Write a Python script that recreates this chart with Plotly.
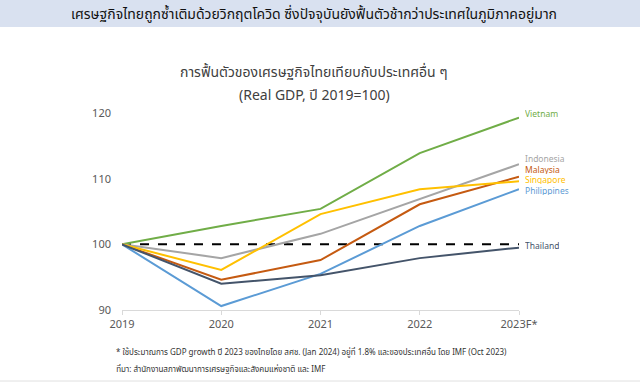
import plotly.graph_objects as go

years = ["2019", "2020", "2021", "2022", "2023F*"]
vietnam = [100, 102.8, 105.4, 113.9, 119.3]
indonesia = [100, 97.9, 101.6, 106.9, 112.2]
malaysia = [100, 94.6, 97.6, 106.1, 110.3]
singapore = [100, 96.1, 104.6, 108.4, 109.6]
philippines = [100, 90.6, 95.5, 102.8, 108.4]
thailand = [100, 94.0, 95.3, 97.9, 99.5]
baseline = [100, 100, 100, 100, 100]

series = [
    ("Vietnam", vietnam, "#70AD47", 120.0),
    ("Indonesia", indonesia, "#A5A5A5", 113.1),
    ("Malaysia", malaysia, "#C55A11", 111.5),
    ("Singapore", singapore, "#FFC000", 109.9),
    ("Philippines", philippines, "#5B9BD5", 108.3),
    ("Thailand", thailand, "#44546A", 99.9),
]

FONT = "Noto Sans, Noto Sans Thai, Tahoma, sans-serif"
xs = list(range(len(years)))

fig = go.Figure()
fig.add_trace(go.Scatter(x=xs, y=baseline, mode="lines",
                         line=dict(color="black", width=2, dash="dash"),
                         hoverinfo="skip", showlegend=False))
for name, vals, color, ly in series:
    fig.add_trace(go.Scatter(x=xs, y=vals, mode="lines", name=name,
                             line=dict(color=color, width=2), showlegend=False))

annotations = []
for name, vals, color, ly in series:
    annotations.append(dict(x=4, y=ly, xref="x", yref="y", text=name,
                            showarrow=False, xanchor="left", xshift=4,
                            yanchor="middle", height=10,
                            font=dict(size=8.5, color=color, family=FONT)))

L, R, T, B = 122, 519, 113, 310
def px(x):
    return (x - L) / (R - L)
def py(y):
    return (B - y) / (B - T)

annotations += [
    dict(x=px(314), y=py(14), xref="paper", yref="paper", showarrow=False,
         text="เศรษฐกิจไทยถูกซ้ำเติมด้วยวิกฤตโควิด ซึ่งปัจจุบันยังฟื้นตัวช้ากว่าประเทศในภูมิภาคอยู่มาก",
         font=dict(size=14, color="#111111", family=FONT), xanchor="center", yanchor="middle"),
    dict(x=px(314), y=py(72), xref="paper", yref="paper", showarrow=False,
         text="การฟื้นตัวของเศรษฐกิจไทยเทียบกับประเทศอื่น ๆ",
         font=dict(size=14, color="#404040", family=FONT), xanchor="center", yanchor="middle"),
    dict(x=px(314), y=py(95), xref="paper", yref="paper", showarrow=False,
         text="(Real GDP, ปี 2019=100)",
         font=dict(size=14, color="#404040", family=FONT), xanchor="center", yanchor="middle"),
    dict(x=px(114), y=py(352), xref="paper", yref="paper", showarrow=False,
         text="* ใช้ประมาณการ GDP growth ปี 2023 ของไทยโดย สศช. (Jan 2024) อยู่ที่ 1.8% และของประเทศอื่น โดย IMF (Oct 2023)",
         font=dict(size=8, color="#333333", family=FONT), xanchor="left", yanchor="middle"),
    dict(x=px(114), y=py(368), xref="paper", yref="paper", showarrow=False,
         text="ที่มา: สำนักงานสภาพัฒนาการเศรษฐกิจและสังคมแห่งชาติ และ IMF",
         font=dict(size=8, color="#333333", family=FONT), xanchor="left", yanchor="middle"),
]

shapes = [
    dict(type="rect", xref="paper", yref="paper", x0=px(0), x1=px(640),
         y0=py(27), y1=py(0), fillcolor="#D9E1F0", line=dict(width=0), layer="below"),
    dict(type="line", xref="paper", yref="paper", x0=px(0), x1=px(640),
         y0=py(381), y1=py(381), line=dict(color="#E0E0E0", width=1)),
]

fig.update_layout(
    width=640, height=382,
    margin=dict(l=L, r=640 - R, t=T, b=382 - B),
    paper_bgcolor="white", plot_bgcolor="white",
    font=dict(family=FONT, color="#595959"),
    annotations=annotations, shapes=shapes,
    xaxis=dict(range=[0, 4], tickvals=xs, ticktext=years, showgrid=False,
               zeroline=False, showline=True, linecolor="#D9D9D9", linewidth=1,
               ticks="outside", tickcolor="#D9D9D9", ticklen=4,
               tickfont=dict(size=11, color="#595959"), fixedrange=True),
    yaxis=dict(range=[90, 120], tickvals=[90, 100, 110, 120], showgrid=False,
               zeroline=False, showline=False, ticks="", ticklabelstandoff=10,
               tickfont=dict(size=11, color="#595959"), fixedrange=True),
)

fig.write_html("out.html", config={"displayModeBar": False},
               post_script="document.body.style.margin='0';document.body.style.overflow='hidden';")
